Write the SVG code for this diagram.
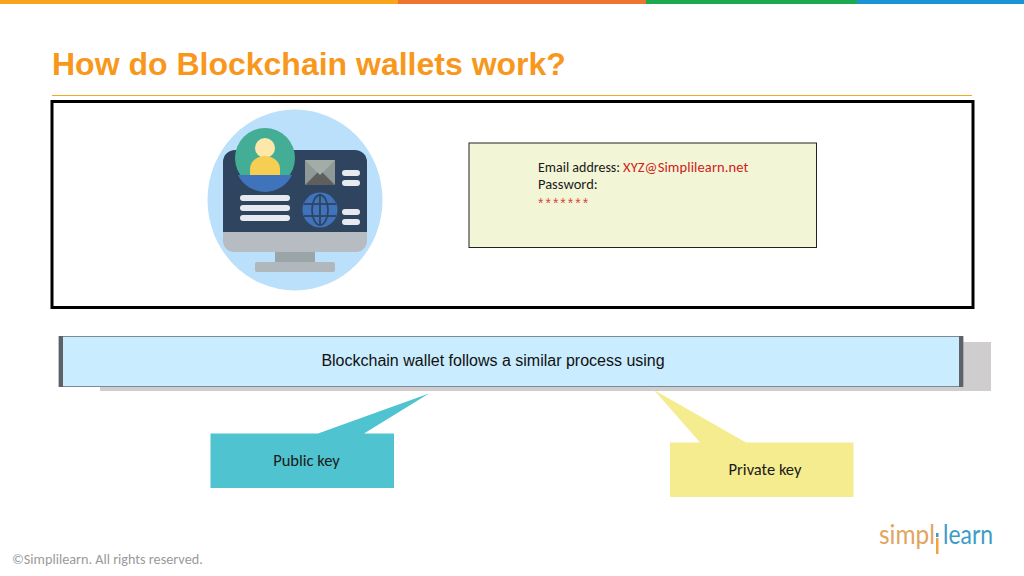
<svg xmlns="http://www.w3.org/2000/svg" width="1024" height="576" viewBox="0 0 1024 576">
<style>
.cal{font-family:"Carlito","Lato","Open Sans",sans-serif;font-size:14.500px;fill:#1a1a1a}
.key{font-size:16.500px}
.red{fill:#d02020}
.lt{fill:#e6e9ee}
.ar{font-family:"Liberation Sans",Arial,sans-serif}
</style>
<rect width="1024" height="576" fill="#fff"/>
<g id="topbar">
<rect x="0" y="0" width="398" height="4" fill="#f8a51b"/>
<rect x="398" y="0" width="248" height="4" fill="#ee7430"/>
<rect x="646" y="0" width="211" height="4" fill="#1ea84f"/>
<rect x="857" y="0" width="167" height="4" fill="#1b93d5"/>
</g>
<g id="title">
<text x="52" y="75" class="ar" font-size="32" font-weight="700" fill="#f7981d">How do Blockchain wallets work?</text>
<rect x="52" y="95" width="920" height="1" fill="#f5a623"/>
</g>
<g id="frame"><rect x="52" y="101.500" width="921" height="206" fill="#fff" stroke="#000" stroke-width="3"/></g>
<g id="wallet-icon">
<ellipse cx="295" cy="200" rx="87.500" ry="90.500" fill="#bbe0fb"/>
<path d="M223 232V162a12 12 0 0 1 12-12H355a12 12 0 0 1 12 12V232Z" fill="#2f445f"/>
<rect x="275" y="252" width="40" height="11" fill="#9aa5a8"/>
<path d="M223 232H367V241a11 11 0 0 1-11 11H234a11 11 0 0 1-11-11Z" fill="#b6bcc2"/>
<rect x="255" y="262" width="80" height="10" rx="2" fill="#b0b7bd"/>
<circle cx="265" cy="158" r="30" fill="#44ad95"/>
<path d="M238 175H292A30 30 0 0 1 238 175Z" fill="#3f74bd"/>
<circle cx="265" cy="148" r="10" fill="#fde8a9"/>
<path d="M250 175v-6a15 13 0 0 1 30 0v6Z" fill="#f6cf52"/>
<rect x="305" y="160" width="30" height="25" fill="#8f9a98"/>
<path d="M305 185L320 170L335 185Z" fill="#5f5f5f"/>
<path d="M305 160L320 175L335 160Z" fill="#a4aca8"/>
<rect x="342" y="170" width="18" height="6" rx="3" class="lt"/>
<rect x="342" y="180" width="18" height="6" rx="3" class="lt"/>
<rect x="342" y="209" width="18" height="6" rx="3" class="lt"/>
<rect x="342" y="219" width="18" height="6" rx="3" class="lt"/>
<rect x="240" y="195" width="50" height="6" rx="3" class="lt"/>
<rect x="240" y="205" width="50" height="6" rx="3" class="lt"/>
<rect x="240" y="215" width="50" height="6" rx="3" class="lt"/>
<circle cx="320" cy="210" r="17.500" fill="#3f74bd"/>
<g fill="none" stroke="#2f445f" stroke-width="1.800">
<ellipse cx="320" cy="210" rx="8" ry="15"/>
<line x1="320" y1="195" x2="320" y2="225"/>
<line x1="304" y1="204" x2="336" y2="204"/>
<line x1="304" y1="216" x2="336" y2="216"/>
</g>
</g>
<g id="login-box">
<rect x="469" y="143" width="347.500" height="104.500" fill="#f3f6d6" stroke="#222" stroke-width="1"/>
<text x="538" y="172" class="cal" style="font-size:14px">Email address:</text>
<text x="623" y="172" class="cal red" style="letter-spacing:.1px">XYZ@Simplilearn.net</text>
<text x="538" y="189" class="cal">Password:</text>
<text x="538" y="208" class="red" fill-opacity=".85" style="font-family:'Liberation Sans',sans-serif;font-size:14px;letter-spacing:2px">*******</text>
</g>
<g id="banner">
<rect x="100" y="342" width="891" height="49" fill="#cfcdce"/>
<rect x="59" y="336.500" width="904" height="50" fill="#c9ecfe" stroke="#7d8a94" stroke-width="1"/>
<rect x="59" y="336" width="4" height="51" fill="#5e6266"/>
<rect x="959" y="336" width="4" height="51" fill="#5e6266"/>
<text x="493" y="366" class="ar" font-size="16" fill="#111" text-anchor="middle">Blockchain wallet follows a similar process using</text>
</g>
<g id="public-key">
<path d="M210.500 433.500H318L429 393.500L364 433.500H394V488H210.500Z" fill="#4fc3cf"/>
<text x="306.500" y="466" class="cal key" text-anchor="middle">Public key</text>
</g>
<g id="private-key">
<path d="M670 442.500H700L654 390L746 442.500H853.500V497H670Z" fill="#f4ec8f"/>
<text x="765" y="475" class="cal key" text-anchor="middle">Private key</text>
</g>
<g id="footer">
<text x="12" y="564" font-family="Carlito,Lato,'Open Sans',sans-serif" font-size="14.200" fill="#9a9a9a">©Simplilearn. All rights reserved.</text>
<text x="879" y="544" font-family="Lato,'Open Sans',sans-serif" font-size="26" fill="#e2a45f" textLength="56" lengthAdjust="spacingAndGlyphs">simpl</text>
<rect x="936" y="533" width="2.500" height="4" fill="#3b9cc6"/>
<rect x="936" y="538" width="2.500" height="16" fill="#eba63f"/>
<text x="943" y="544" font-family="Lato,'Open Sans',sans-serif" font-size="26" fill="#3b9cc6" textLength="50" lengthAdjust="spacingAndGlyphs">learn</text>
</g>
<g id="connectors"/>
</svg>
